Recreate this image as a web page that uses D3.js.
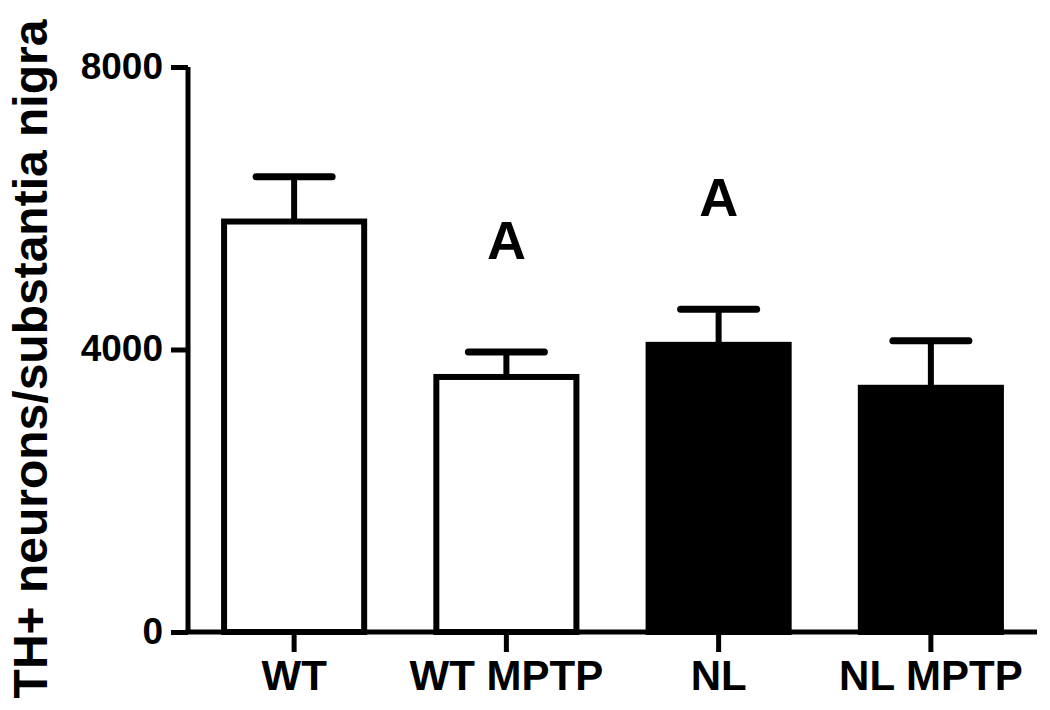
<!DOCTYPE html>
<html>
<head>
<meta charset="utf-8">
<script src="https://cdn.jsdelivr.net/npm/d3@7"></script>
<style>
  html, body { margin: 0; padding: 0; background: #fff; }
  svg { display: block; }
  text { font-family: "Liberation Sans", Arial, sans-serif; font-weight: bold; fill: #000; }
</style>
</head>
<body>
<svg id="chart" width="1050" height="710"></svg>
<script>
// ---- data ----
const categories = ["WT", "WT MPTP", "NL", "NL MPTP"];
const means      = [5812, 3611, 4066, 3458];
const sems       = [ 635,  354,  505,  667];
const filled     = [false, false, true, true];
const sigLabels  = ["", "A", "A", ""];
const yTicks     = [0, 4000, 8000];
const yTitle     = "TH+ neurons/substantia nigra";

// ---- layout ----
const svg = d3.select("#chart");
const plotLeft = 188, plotRight = 1037, plotTop = 67, plotBottom = 632;

const x = d3.scaleBand().domain(categories).range([plotLeft, plotRight])
  .paddingInner(0.34).paddingOuter(0.17);
const y = d3.scaleLinear().domain([0, 8000]).range([plotBottom, plotTop]);

const data = categories.map((c, i) => ({
  cat: c, mean: means[i], sem: sems[i], filled: filled[i], sig: sigLabels[i]
}));

// bars
svg.append("g").selectAll("rect").data(data).join("rect")
  .attr("x", d => x(d.cat))
  .attr("y", d => y(d.mean))
  .attr("width", x.bandwidth())
  .attr("height", d => y(0) - y(d.mean))
  .attr("fill", d => d.filled ? "#000" : "#fff")
  .attr("stroke", "#000")
  .attr("stroke-width", 6);

// error bars
const eb = svg.append("g").selectAll("g").data(data).join("g");
eb.append("line")
  .attr("x1", d => x(d.cat) + x.bandwidth() / 2)
  .attr("x2", d => x(d.cat) + x.bandwidth() / 2)
  .attr("y1", d => y(d.mean))
  .attr("y2", d => y(d.mean + d.sem))
  .attr("stroke", "#000").attr("stroke-width", 6);
eb.append("line")
  .attr("x1", d => x(d.cat) + x.bandwidth() / 2 - 38)
  .attr("x2", d => x(d.cat) + x.bandwidth() / 2 + 38)
  .attr("y1", d => y(d.mean + d.sem))
  .attr("y2", d => y(d.mean + d.sem))
  .attr("stroke", "#000").attr("stroke-width", 7).attr("stroke-linecap", "round");

// significance letters
svg.append("g").selectAll("text").data(data.filter(d => d.sig)).join("text")
  .attr("x", d => x(d.cat) + x.bandwidth() / 2)
  .attr("y", d => y(d.mean + d.sem) - 93)
  .attr("text-anchor", "middle")
  .attr("font-size", 54)
  .text(d => d.sig);

// y axis
const yAxis = svg.append("g").attr("transform", `translate(${plotLeft},0)`)
  .call(d3.axisLeft(y).tickValues(yTicks).tickSize(17).tickPadding(8).tickFormat(d3.format("d")));
yAxis.select(".domain").attr("d", `M0,${plotBottom}V${plotTop}`).attr("stroke-width", 5);
yAxis.selectAll(".tick line").attr("stroke-width", 5);
yAxis.selectAll(".tick text")
  .attr("font-size", 37).attr("font-family", "Liberation Sans, Arial, sans-serif")
  .attr("font-weight", "bold").attr("dy", "0.3em");

// x axis
const xAxis = svg.append("g").attr("transform", `translate(0,${plotBottom})`)
  .call(d3.axisBottom(x).tickSize(20).tickPadding(8));
xAxis.select(".domain").attr("d", `M${plotLeft - 2.5},0H${plotRight}`).attr("stroke-width", 5);
xAxis.selectAll(".tick line").attr("stroke-width", 5);
xAxis.selectAll(".tick text")
  .attr("font-size", 42).attr("font-family", "Liberation Sans, Arial, sans-serif")
  .attr("font-weight", "bold").attr("dy", "0.72em");

// y title
svg.append("text")
  .attr("transform", `translate(47,359) rotate(-90)`)
  .attr("text-anchor", "middle")
  .attr("font-size", 48)
  .text(yTitle);
</script>
</body>
</html>
